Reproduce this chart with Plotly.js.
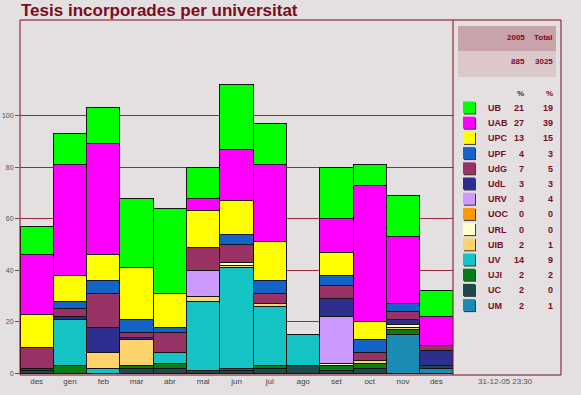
<!DOCTYPE html>
<html><head><meta charset="utf-8">
<script src="https://cdn.plot.ly/plotly-3.0.1.min.js"></script>
<style>html,body{margin:0;padding:0;background:#e4dfe0;overflow:hidden;}</style>
</head><body><div id="chart" style="width:581px;height:395px;"></div>
<script>
// ---- data ----
const months = ['des','gen','feb','mar','abr','mai','jun','jul','ago','set','oct','nov','des'];
const universities = ['UB','UAB','UPC','UPF','UdG','UdL','URV','UOC','URL','UIB','UV','UJI','UC','UM'];
const colors = ['#00ff00','#ff00ff','#ffff00','#1464c8','#993366','#2e2e8f','#cc99ff','#ff9900','#ffffcc','#ffd36b','#14c4c4','#0a7d14','#1e4a4a','#1a8cb4'];
const pct2005 = [21,27,13,4,7,3,3,0,0,2,14,2,2,2];
const pctTotal = [19,39,15,3,5,3,4,0,0,1,9,2,0,1];
const headerYear = '2005', headerTotal = 'Total';
const count2005 = 885, countTotal = 3025;
const stamp = '31-12-05 23:30';

const valsUB  = [11,12,14,27,33,12,25,16, 0,20, 8,16,10];
const valsUAB = [23,43,43, 0, 0, 5,20,30, 0,13,53,26,11];
const valsUPC = [13,10,10,20,13,14,13,15, 0, 9, 7, 0, 0];
const valsUPF = [ 0, 3, 5, 5, 2, 0, 4, 5, 0, 4, 5, 3, 0];
const valsUdG = [ 8, 3,13, 2, 8, 9, 7, 4, 0, 5, 3, 3, 2];
const valsUdL = [ 1, 1,10, 1, 0, 0, 0, 0, 0, 7, 0, 2, 6];
const valsURV = [ 0, 0, 0, 0, 0,10, 0, 0, 0,18, 0, 0, 0];
const valsUOC = [ 0, 0, 0, 0, 0, 0, 0, 0, 0, 0, 0, 0, 0];
const valsURL = [ 0, 0, 0, 0, 0, 0, 1, 0, 0, 1, 0, 1, 0];
const valsUIB = [ 0, 0, 6,10, 0, 2, 1, 1, 0, 0, 1, 1, 0];
const valsUV  = [ 0,18, 2, 0, 4,27,39,23,12, 0, 0, 0, 0];
const valsUJI = [ 0, 3, 0, 1, 2, 0, 1, 1, 0, 2, 2, 2, 0];
const valsUC  = [ 1, 0, 0, 2, 2, 1, 1, 2, 3, 1, 2, 0, 1];
const valsUM  = [ 0, 0, 0, 0, 0, 0, 0, 0, 0, 0, 0,15, 2];
const series = [valsUB,valsUAB,valsUPC,valsUPF,valsUdG,valsUdL,valsURV,valsUOC,valsURL,valsUIB,valsUV,valsUJI,valsUC,valsUM];
const yTicks = [0,20,40,60,80,100];

// ---- layout helpers ----
const W = 581, H = 395;
const px = x => x / W;
const py = y => 1 - y / H;
const maroon = '#7b0c1e';
const xIdx = months.map((m,i)=>i);

const traces = [];
for (let k = universities.length - 1; k >= 0; k--) {
  traces.push({
    type: 'bar', x: xIdx, y: series[k], name: universities[k],
    marker: {color: colors[k], line: {color: '#151515', width: 1}},
    width: 1, hoverinfo: 'skip', showlegend: false
  });
}

const shapes = [
  // outer frame
  {type:'rect', xref:'paper', yref:'paper', x0:px(20), x1:px(561), y0:py(375), y1:py(20), line:{color:maroon,width:1}, layer:'above'},
  {type:'line', xref:'paper', yref:'paper', x0:px(453), x1:px(453), y0:py(375), y1:py(20), line:{color:maroon,width:1}, layer:'above'},
  // header boxes
  {type:'rect', xref:'paper', yref:'paper', x0:px(458), x1:px(556), y0:py(51), y1:py(26), fillcolor:'#c8a3a9', line:{width:0}},
  {type:'rect', xref:'paper', yref:'paper', x0:px(458), x1:px(556), y0:py(77), y1:py(51), fillcolor:'#dcc8cb', line:{width:0}}
];
const annotations = [
  {xref:'paper', yref:'paper', x:px(527), y:py(37), xanchor:'right', yanchor:'middle', showarrow:false, text:'<b>'+headerYear+'</b>', font:{family:'Liberation Sans, Arial', size:8, color:maroon}},
  {xref:'paper', yref:'paper', x:px(555), y:py(37), xanchor:'right', yanchor:'middle', showarrow:false, text:'<b>'+headerTotal+'</b>', font:{family:'Liberation Sans, Arial', size:8, color:maroon}},
  {xref:'paper', yref:'paper', x:px(527), y:py(62), xanchor:'right', yanchor:'middle', showarrow:false, text:'<b>'+count2005+'</b>', font:{family:'Liberation Sans, Arial', size:8, color:maroon}},
  {xref:'paper', yref:'paper', x:px(555), y:py(62), xanchor:'right', yanchor:'middle', showarrow:false, text:'<b>'+countTotal+'</b>', font:{family:'Liberation Sans, Arial', size:8, color:maroon}},
  {xref:'paper', yref:'paper', x:px(526), y:py(93), xanchor:'right', yanchor:'middle', showarrow:false, text:'<b>%</b>', font:{family:'Liberation Sans, Arial', size:8, color:maroon}},
  {xref:'paper', yref:'paper', x:px(555), y:py(93), xanchor:'right', yanchor:'middle', showarrow:false, text:'<b>%</b>', font:{family:'Liberation Sans, Arial', size:8, color:maroon}},
  {xref:'paper', yref:'paper', x:px(505), y:py(381), xanchor:'center', yanchor:'middle', showarrow:false, text:stamp, font:{family:'Liberation Sans, Arial', size:8, color:'#555'}}
];
universities.forEach((u,i) => {
  const cy = 108 + i * 15.2;
  shapes.push({type:'rect', xref:'paper', yref:'paper', x0:px(464), x1:px(476), y0:py(cy+6.5), y1:py(cy-5.5), fillcolor:'#3a3a3a', line:{width:0}});
  shapes.push({type:'rect', xref:'paper', yref:'paper', x0:px(463), x1:px(475), y0:py(cy+5.5), y1:py(cy-6.5), fillcolor:colors[i], line:{width:0}});
  const f = {family:'Liberation Sans, Arial', size:9, color:maroon};
  annotations.push({xref:'paper', yref:'paper', x:px(486), y:py(cy), xanchor:'left', yanchor:'middle', showarrow:false, text:'<b>'+u+'</b>', font:f});
  annotations.push({xref:'paper', yref:'paper', x:px(526), y:py(cy), xanchor:'right', yanchor:'middle', showarrow:false, text:'<b>'+pct2005[i]+'</b>', font:f});
  annotations.push({xref:'paper', yref:'paper', x:px(555), y:py(cy), xanchor:'right', yanchor:'middle', showarrow:false, text:'<b>'+pctTotal[i]+'</b>', font:f});
});

const layout = {
  width: W, height: H,
  margin: {l:0, r:0, t:0, b:0},
  paper_bgcolor: '#e4dfe0', plot_bgcolor: '#e4dfe0',
  barmode: 'stack', bargap: 0,
  showlegend: false,
  title: {text:'Tesis incorporades per universitat', x:px(21), xanchor:'left', xref:'paper', y:py(10), yanchor:'middle', yref:'paper',
          font:{family:'Liberation Sans, Arial', size:17, weight:'bold', color:maroon}},
  xaxis: {domain:[px(20), px(453)], range:[-0.5, 12.5], tickvals:xIdx, ticktext:months,
          showgrid:false, zeroline:false, showline:false, ticks:'', automargin:false,
          tickfont:{family:'Liberation Sans, Arial', size:8, color:'#444'}},
  yaxis: {domain:[py(375), py(20)], range:[-0.6, 137], tickvals:yTicks, ticktext:yTicks.map(String),
          showgrid:true, gridcolor:'#9b2a3c', gridwidth:1, zeroline:false, showline:false,
          ticks:'outside', ticklen:4, tickcolor:'#555', automargin:false,
          tickfont:{family:'Liberation Sans, Arial', size:7, color:'#555'}},
  shapes: shapes, annotations: annotations
};
Plotly.newPlot('chart', traces, layout, {staticPlot:true, displayModeBar:false});
</script></body></html>
